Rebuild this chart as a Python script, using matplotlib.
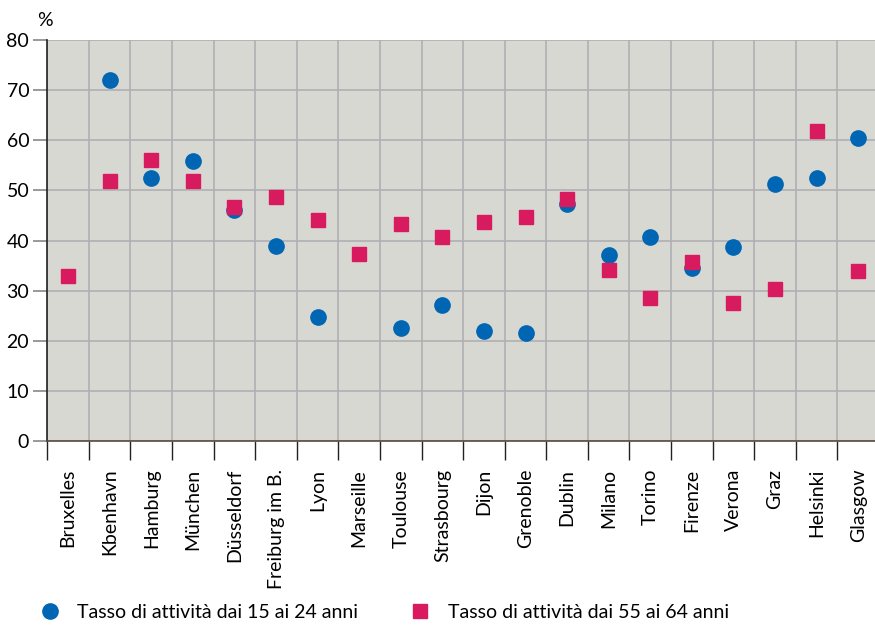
import numpy as np
import matplotlib.pyplot as plt
from matplotlib.lines import Line2D

plt.rcParams['font.family'] = ['Lato', 'DejaVu Sans']

# dati
citta = ['Bruxelles', 'Kbenhavn', 'Hamburg', 'München', 'Düsseldorf', 'Freiburg im B.',
         'Lyon', 'Marseille', 'Toulouse', 'Strasbourg', 'Dijon', 'Grenoble', 'Dublin',
         'Milano', 'Torino', 'Firenze', 'Verona', 'Graz', 'Helsinki', 'Glasgow']
giovani = [np.nan, 72.0, 52.5, 55.9, 46.0, 38.9, 24.8, np.nan, 22.6, 27.1, 22.0, 21.6,
           47.3, 37.1, 40.7, 34.5, 38.7, 51.3, 52.5, 60.5]
anziani = [32.9, 51.9, 56.0, 51.9, 46.7, 48.7, 44.1, 37.3, 43.3, 40.7, 43.7, 44.7,
           48.3, 34.1, 28.5, 35.7, 27.5, 30.3, 61.9, 33.9]

blu = '#0066b3'
rosso = '#d81b5e'

fig = plt.figure(figsize=(8.75, 6.25), dpi=100)
ax = fig.add_axes([47.3 / 875, 184 / 625, 831.7 / 875, 401 / 625])
ax.set_facecolor('#d8d8d3')

x = np.arange(len(citta))
ax.plot(x, giovani, 'o', color=blu, markersize=11, zorder=3)
ax.plot(x, anziani, 's', color=rosso, markersize=10.5, zorder=4)

ax.set_xlim(-0.5, len(citta) - 0.5)
ax.set_ylim(0, 80)
ax.set_yticks(range(0, 81, 10))
ax.set_xticks(np.arange(-0.5, len(citta), 1))
ax.set_xticklabels([])
ax.set_xticks(x, minor=True)
ax.set_xticklabels(citta, minor=True, rotation=90, fontsize=14, va='top', ha='center')

ax.grid(True, which='major', color='#b0b0b4', linewidth=1.2)
ax.set_axisbelow(True)
ax.tick_params(axis='x', which='major', direction='out', length=14, width=1, color='#222222')
ax.tick_params(axis='x', which='minor', length=0, pad=20)
ax.tick_params(axis='y', direction='out', length=10, width=1.2, color='#888888',
               labelsize=14, pad=3)

for s in ['top', 'right']:
    ax.spines[s].set_visible(False)
ax.spines['left'].set_color('#222222')
ax.spines['bottom'].set_color('#5a4a3a')
ax.spines['left'].set_linewidth(1.2)
ax.spines['bottom'].set_linewidth(1.2)

fig.text(37 / 875, 1 - 20 / 625, '%', fontsize=14, va='center', ha='left')

# legenda in basso
fig.add_artist(Line2D([50 / 875], [1 - 611 / 625], marker='o', color=blu, markersize=11,
                      linestyle='none', transform=fig.transFigure))
fig.text(77 / 875, 1 - 613 / 625, 'Tasso di attività dai 15 ai 24 anni', fontsize=14,
         va='center', ha='left')
fig.add_artist(Line2D([420 / 875], [1 - 611 / 625], marker='s', color=rosso, markersize=10.5,
                      linestyle='none', transform=fig.transFigure))
fig.text(448 / 875, 1 - 613 / 625, 'Tasso di attività dai 55 ai 64 anni', fontsize=14,
         va='center', ha='left')

fig.savefig('out.png', dpi=100)
